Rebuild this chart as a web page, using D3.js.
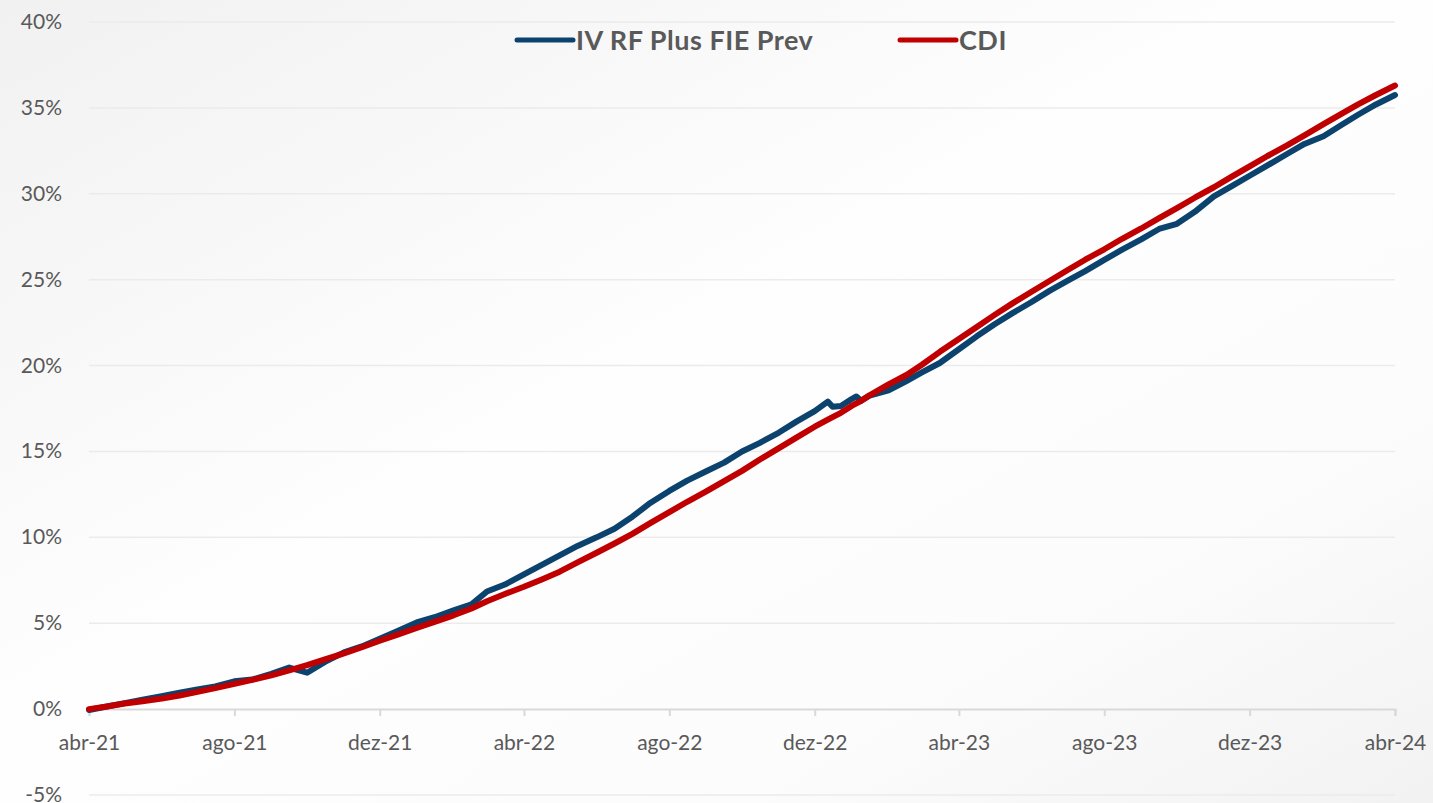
<!DOCTYPE html><html>
<head>
<meta charset="utf-8">
<style>
body { margin: 0; padding: 0; background: #fafafa; }
svg { display: block; }
text { font-family: Lato, "Open Sans", sans-serif; fill: #595959; }
.grid line { stroke: #ebebeb; stroke-width: 1.5px; }
.serie { fill: none; stroke-width: 6px; stroke-linejoin: round; stroke-linecap: round; }
</style>
</head>
<script src="https://cdn.jsdelivr.net/npm/d3@7"></script>
<body>
<svg id="chart"></svg>
<script>
// datas quinzenais (acumulado, %)
var datas = [
  "2021-04-01","2021-04-16","2021-05-01","2021-05-16","2021-06-01","2021-06-16",
  "2021-07-01","2021-07-16","2021-08-01","2021-08-16","2021-09-01","2021-09-16",
  "2021-10-01","2021-10-16","2021-11-01","2021-11-16","2021-12-01","2021-12-16",
  "2022-01-01","2022-01-16","2022-02-01","2022-02-16","2022-03-01","2022-03-16",
  "2022-04-01","2022-04-16","2022-05-01","2022-05-16","2022-06-01","2022-06-16",
  "2022-07-01","2022-07-16","2022-08-01","2022-08-16","2022-09-01","2022-09-16",
  "2022-10-01","2022-10-16","2022-11-01","2022-11-16","2022-12-01","2022-12-12",
  "2022-12-16","2022-12-23","2023-01-01","2023-01-05","2023-01-09","2023-01-16",
  "2023-02-01","2023-02-16","2023-03-01","2023-03-16","2023-04-01","2023-04-16",
  "2023-05-01","2023-05-16","2023-06-01","2023-06-16","2023-07-01","2023-07-16",
  "2023-08-01","2023-08-16","2023-09-01","2023-09-16","2023-10-01","2023-10-16",
  "2023-11-01","2023-11-16","2023-12-01","2023-12-16","2024-01-01","2024-01-16",
  "2024-02-01","2024-02-16","2024-03-01","2024-03-16","2024-04-01"
];
var fundo = [
  -0.05, 0.15, 0.35, 0.55, 0.75, 0.95,
  1.15, 1.32, 1.62, 1.72, 2.05, 2.42,
  2.12, 2.75, 3.30, 3.65, 4.10, 4.55,
  5.05, 5.35, 5.75, 6.10, 6.85, 7.25,
  7.85, 8.40, 8.95, 9.50, 10.00, 10.50,
  11.20, 12.00, 12.70, 13.30, 13.85, 14.35,
  15.00, 15.50, 16.10, 16.75, 17.35, 17.90,
  17.60, 17.65, 18.05, 18.20, 17.95, 18.25,
  18.55, 19.10, 19.60, 20.15, 20.95, 21.70,
  22.40, 23.05, 23.70, 24.35, 24.93, 25.50,
  26.15, 26.75, 27.35, 27.95, 28.25, 28.95,
  29.85, 30.45, 31.05, 31.65, 32.30, 32.90,
  33.35, 34.00, 34.60, 35.20, 35.75
];
var cdi = [
  0.00, 0.15, 0.33, 0.46, 0.61, 0.79,
  1.00, 1.22, 1.47, 1.70, 1.96, 2.25,
  2.56, 2.90, 3.25, 3.60, 3.98, 4.34,
  4.72, 5.08, 5.46, 5.86, 6.28, 6.70,
  7.12, 7.55, 8.00, 8.54, 9.10, 9.64,
  10.20, 10.83, 11.47, 12.07, 12.67, 13.27,
  13.87, 14.53, 15.19, 15.82, 16.44, 16.85,
  17.00, 17.25, 17.65, 17.80, 17.95, 18.27,
  18.90, 19.45, 20.05, 20.80, 21.55, 22.25,
  22.95, 23.62, 24.30, 24.92, 25.55, 26.16,
  26.77, 27.38, 27.98, 28.58, 29.16, 29.77,
  30.38, 31.00, 31.60, 32.20, 32.80, 33.40,
  34.05, 34.65, 35.20, 35.75, 36.30
];
var series = [
  { nome: "IV RF Plus FIE Prev", valores: fundo, cor: "#0b426e" },
  { nome: "CDI", valores: cdi, cor: "#c00000" }
];
var yTicks = [-5, 0, 5, 10, 15, 20, 25, 30, 35, 40];
var xTicks = ["2021-04-01","2021-08-01","2021-12-01","2022-04-01","2022-08-01",
              "2022-12-01","2023-04-01","2023-08-01","2023-12-01","2024-04-01"];
var xLabels = ["abr-21","ago-21","dez-21","abr-22","ago-22",
               "dez-22","abr-23","ago-23","dez-23","abr-24"];

var W = 1433, H = 803;
var svg = d3.select("#chart").attr("width", W).attr("height", H);

var defs = svg.append("defs");
var grad = defs.append("linearGradient").attr("id", "fundo")
  .attr("x1", "0").attr("y1", "0").attr("x2", "1").attr("y2", "1");
grad.append("stop").attr("offset", "0").attr("stop-color", "#f1f1f1");
grad.append("stop").attr("offset", "0.45").attr("stop-color", "#fefefe");
grad.append("stop").attr("offset", "0.75").attr("stop-color", "#fcfcfc");
grad.append("stop").attr("offset", "1").attr("stop-color", "#f2f2f2");
svg.append("rect").attr("width", W).attr("height", H).attr("fill", "url(#fundo)");

var parse = d3.utcParse("%Y-%m-%d");
var x = d3.scaleUtc()
  .domain([parse("2021-04-01"), parse("2024-04-01")])
  .range([89, 1395]);
var y = d3.scaleLinear().domain([-5, 40]).range([795, 22]);

// grade horizontal
svg.append("g").attr("class", "grid")
  .selectAll("line").data(yTicks.filter(d => d != 0)).enter().append("line")
  .attr("x1", x.range()[0]).attr("x2", x.range()[1])
  .attr("y1", d => y(d)).attr("y2", d => y(d));

// eixo y
svg.append("g").selectAll("text").data(yTicks).enter().append("text")
  .attr("x", 62).attr("y", d => y(d) + 7)
  .attr("text-anchor", "end").style("font-size", "21px")
  .text(d => d + "%");

// eixo x no 0%
var xAxis = d3.axisBottom(x)
  .tickValues(xTicks.map(parse))
  .tickSize(7)
  .tickFormat((d, i) => xLabels[i]);
var gx = svg.append("g").attr("transform", "translate(0," + y(0) + ")").call(xAxis);
gx.select(".domain").attr("stroke", "#d9d9d9").attr("stroke-width", 2);
gx.selectAll(".tick line").attr("stroke", "#d9d9d9").attr("stroke-width", 2);
gx.selectAll(".tick text").attr("y", 26).style("font-size", "21px")
  .attr("fill", "#595959").style("font-family", "Lato, sans-serif");

// linhas
var line = d3.line()
  .x((d, i) => x(parse(datas[i])))
  .y(d => y(d));
svg.selectAll("path.serie").data(series).enter().append("path")
  .attr("class", "serie")
  .attr("stroke", d => d.cor)
  .attr("d", d => line(d.valores));

// legenda
var legX = [517, 900];
var leg = svg.selectAll("g.leg").data(series).enter().append("g")
  .attr("transform", (d, i) => "translate(" + legX[i] + ",40)");
leg.append("line").attr("x1", 0).attr("x2", 56).attr("y1", 0).attr("y2", 0)
  .attr("stroke", d => d.cor).attr("stroke-width", 5).attr("stroke-linecap", "round");
leg.append("text").attr("x", 59).attr("y", 10)
  .style("font-size", "27px").style("font-weight", "bold")
  .style("letter-spacing", "0.5px")
  .text(d => d.nome);
</script>
</body>
</html>
